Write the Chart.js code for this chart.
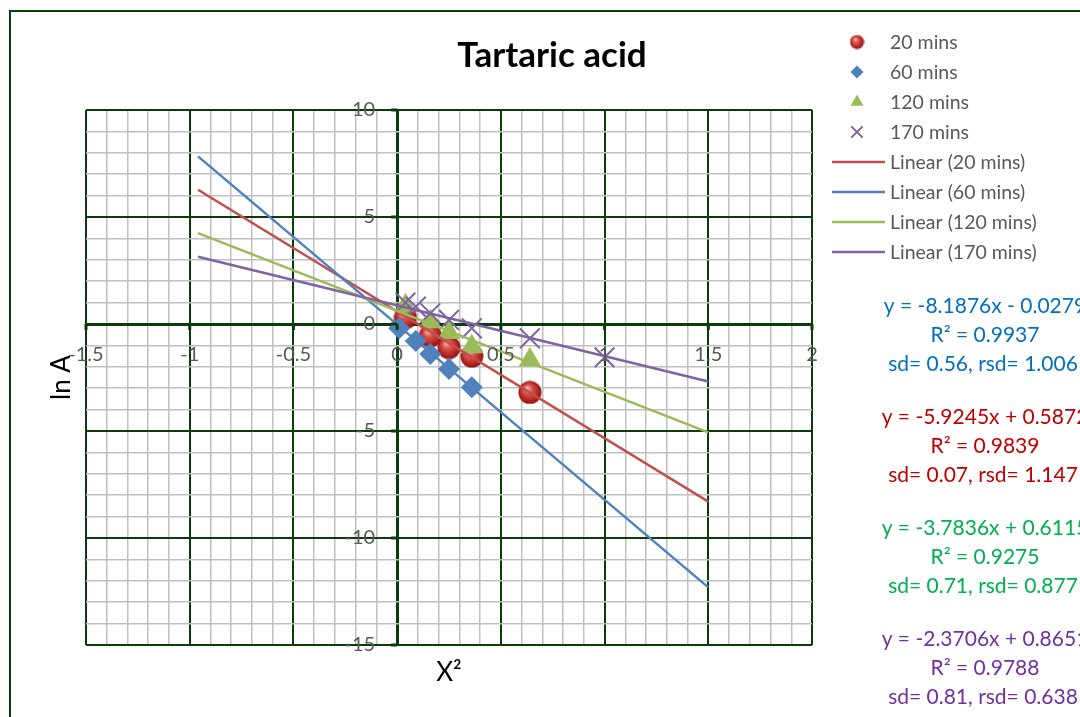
<!DOCTYPE html>
<html>
<head>
<meta charset="utf-8">
<title>Tartaric acid</title>
<script src="https://cdn.jsdelivr.net/npm/chart.js@4/dist/chart.umd.min.js"></script>
<style>
  body { margin: 0; background: #fff; }
  canvas { display: block; }
</style>
</head>
<body>
<canvas id="lnChart" width="1080" height="717"></canvas>
<script>
// measured points, x = X^2, y = ln A
const names = ['20 mins', '60 mins', '120 mins', '170 mins'];
const x20 = [0.04, 0.16, 0.25, 0.36, 0.64];
const y20 = [0.3, -0.55, -1.1, -1.5, -3.2];
const x60 = [0.01, 0.09, 0.16, 0.25, 0.36];
const y60 = [-0.2, -0.8, -1.4, -2.1, -2.95];
const x120 = [0.04, 0.16, 0.25, 0.36, 0.64];
const y120 = [0.85, 0.1, -0.4, -1.06, -1.68];
const x170 = [0.04, 0.09, 0.16, 0.25, 0.36, 0.64, 1.0];
const y170 = [1.0, 0.81, 0.5, 0.19, -0.2, -0.67, -1.56];

// fitted lines (same order as names)
const slopes = [-5.9245, -8.1876, -3.7836, -2.3706];
const intercepts = [0.5872, -0.0279, 0.6115, 0.8651];
const r2 = [0.9839, 0.9937, 0.9275, 0.9788];
const sdNotes = ['sd= 0.07, rsd= 1.147', 'sd= 0.56, rsd= 1.006', 'sd= 0.71, rsd= 0.877', 'sd= 0.81, rsd= 0.638'];
const trendFrom = -0.96;
const trendTo = 1.5;

const xTicks = [-1.5, -1, -0.5, 0, 0.5, 1, 1.5, 2];
const yTicks = [10, 5, 0, -5, -10, -15];

const FONT = 'Lato, "Open Sans", sans-serif';
const GREEN = '#0b3a0b';
const lineColors = ['#c0504d', '#4f81bd', '#9bbb59', '#8064a2'];
const textColors = ['#c00000', '#0070c0', '#00b050', '#7030a0'];
// equations are stacked blue, red, green, purple
const eqOrder = [1, 0, 2, 3];

function pts(xs, ys) {
  return xs.map((x, i) => ({ x: x, y: ys[i] }));
}

// shaded red ball marker
function sphere(d) {
  const c = document.createElement('canvas');
  c.width = d; c.height = d;
  const g = c.getContext('2d');
  const r = d / 2;
  const grad = g.createRadialGradient(r * 0.75, r * 0.6, r * 0.05, r, r, r);
  grad.addColorStop(0, '#f7b0aa');
  grad.addColorStop(0.35, '#d9534d');
  grad.addColorStop(0.8, '#b0201c');
  grad.addColorStop(1, '#7a1512');
  g.fillStyle = grad;
  g.beginPath();
  g.arc(r, r, r - 0.5, 0, Math.PI * 2);
  g.fill();
  return c;
}
const ballBig = sphere(24);
const ballSmall = sphere(15);

function trend(i) {
  return [
    { x: trendFrom, y: slopes[i] * trendFrom + intercepts[i] },
    { x: trendTo, y: slopes[i] * trendTo + intercepts[i] }
  ];
}

const markerDefs = [
  { data: pts(x20, y20), pointStyle: ballBig, legendStyle: ballSmall, radius: 12, legendRadius: 7, color: '#c0504d' },
  { data: pts(x60, y60), pointStyle: 'rectRot', legendStyle: 'rectRot', radius: 11, legendRadius: 6.5, color: '#4f81bd' },
  { data: pts(x120, y120), pointStyle: 'triangle', legendStyle: 'triangle', radius: 13, legendRadius: 7.5, color: '#9bbb59' },
  { data: pts(x170, y170), pointStyle: 'crossRot', legendStyle: 'crossRot', radius: 14, legendRadius: 8, color: '#8064a2' }
];

const datasets = [];
markerDefs.forEach((m, i) => {
  datasets.push({
    label: names[i],
    data: m.data,
    pointStyle: m.pointStyle,
    legendStyle: m.legendStyle,
    legendRadius: m.legendRadius,
    pointRadius: m.radius,
    pointBackgroundColor: m.color,
    pointBorderColor: m.color,
    pointBorderWidth: m.pointStyle === 'crossRot' ? 2 : 0,
    showLine: false,
    order: 8 - i
  });
});
names.forEach((n, i) => {
  datasets.push({
    label: 'Linear (' + n + ')',
    data: trend(i),
    showLine: true,
    borderColor: lineColors[i],
    borderWidth: 2.5,
    pointRadius: 0,
    isTrend: true,
    order: 4 - i
  });
});

function isMult(v, step) {
  const k = v / step;
  return Math.abs(k - Math.round(k)) < 1e-6;
}

const decorations = {
  id: 'decorations',
  afterDraw(chart) {
    const ctx = chart.ctx;
    const xs = chart.scales.x, ys = chart.scales.y;
    const x0 = xs.getPixelForValue(0), y0 = ys.getPixelForValue(0);
    const area = chart.chartArea;
    ctx.save();

    // outer frame
    ctx.strokeStyle = GREEN;
    ctx.lineWidth = 2;
    ctx.beginPath();
    ctx.moveTo(10, 717);
    ctx.lineTo(10, 11);
    ctx.lineTo(1080, 11);
    ctx.stroke();

    // tick marks on the zero axes
    ctx.lineWidth = 3;
    ctx.beginPath();
    xTicks.forEach(v => {
      const px = xs.getPixelForValue(v);
      ctx.moveTo(px, y0);
      ctx.lineTo(px, y0 + 6);
    });
    yTicks.forEach(v => {
      const py = ys.getPixelForValue(v);
      ctx.moveTo(x0, py);
      ctx.lineTo(x0 - 6, py);
    });
    ctx.stroke();

    // tick labels beside the axes
    ctx.fillStyle = '#595959';
    ctx.font = '20px ' + FONT;
    ctx.textAlign = 'center';
    ctx.textBaseline = 'middle';
    xTicks.forEach(v => {
      ctx.fillText(String(v), xs.getPixelForValue(v), y0 + 31);
    });
    ctx.textAlign = 'right';
    yTicks.forEach(v => {
      ctx.fillText(String(v), x0 - 22, ys.getPixelForValue(v));
    });

    // axis titles
    ctx.fillStyle = '#000';
    ctx.font = '26px ' + FONT;
    ctx.textAlign = 'center';
    ctx.fillText('X²', (area.left + area.right) / 2, area.bottom + 28);
    ctx.save();
    ctx.translate(62, (area.top + area.bottom) / 2);
    ctx.rotate(-Math.PI / 2);
    ctx.fillText('ln A', 0, 0);
    ctx.restore();

    // chart title
    ctx.font = 'bold 35px ' + FONT;
    ctx.fillText('Tartaric acid', 552, 56);

    // legend
    ctx.font = '19.5px ' + FONT;
    ctx.textAlign = 'left';
    chart.data.datasets.forEach((ds, i) => {
      const ly = 42 + i * 30;
      if (ds.isTrend) {
        ctx.strokeStyle = ds.borderColor;
        ctx.lineWidth = 2.5;
        ctx.beginPath();
        ctx.moveTo(832, ly);
        ctx.lineTo(885, ly);
        ctx.stroke();
      } else {
        ctx.fillStyle = ds.pointBackgroundColor;
        ctx.strokeStyle = ds.pointBorderColor;
        ctx.lineWidth = 2;
        Chart.helpers.drawPoint(ctx, {
          pointStyle: ds.legendStyle,
          radius: ds.legendRadius,
          rotation: 0,
          borderWidth: ds.pointBorderWidth
        }, 857, ly);
      }
      ctx.fillStyle = '#595959';
      ctx.fillText(ds.label, 890, ly + 1);
    });

    // regression notes
    ctx.font = '21px ' + FONT;
    ctx.textAlign = 'center';
    eqOrder.forEach((s, k) => {
      const top = 306 + k * 111;
      const b = intercepts[s];
      const eq = 'y = ' + slopes[s].toFixed(4) + 'x ' + (b < 0 ? '- ' : '+ ') + Math.abs(b).toFixed(4);
      ctx.fillStyle = textColors[s];
      ctx.fillText(eq, 985, top);
      ctx.fillText('R² = ' + r2[s].toFixed(4), 985, top + 29);
      ctx.fillText(sdNotes[s], 983, top + 58);
    });

    ctx.restore();
  }
};

function gridColor(major) {
  return ctx => isMult(ctx.tick.value, major) ? GREEN : '#c0c0c0';
}
function gridWidth(major) {
  return ctx => {
    const v = ctx.tick.value;
    if (Math.abs(v) < 1e-9) return 3;
    return isMult(v, major) ? 2 : 1.5;
  };
}

new Chart(document.getElementById('lnChart'), {
  type: 'scatter',
  data: { datasets: datasets },
  options: {
    responsive: false,
    animation: false,
    devicePixelRatio: 1,
    layout: { padding: { left: 86, top: 110, right: 268, bottom: 72 } },
    plugins: {
      legend: { display: false },
      tooltip: { enabled: false },
      title: { display: false }
    },
    scales: {
      x: {
        type: 'linear',
        min: -1.5,
        max: 2,
        ticks: { display: false, stepSize: 0.1 },
        border: { display: false },
        grid: { drawTicks: false, color: gridColor(0.5), lineWidth: gridWidth(0.5) }
      },
      y: {
        type: 'linear',
        min: -15,
        max: 10,
        ticks: { display: false, stepSize: 1 },
        border: { display: false },
        grid: { drawTicks: false, color: gridColor(5), lineWidth: gridWidth(5) }
      }
    }
  },
  plugins: [decorations]
});
</script>
</body>
</html>
